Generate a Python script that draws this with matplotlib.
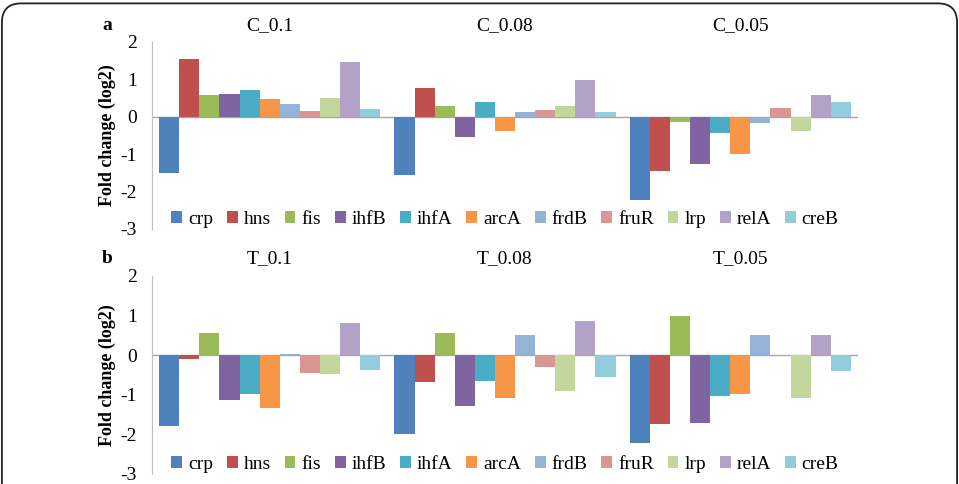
import numpy as np
import matplotlib
matplotlib.use("Agg")
from matplotlib import pyplot as plt
from matplotlib.patches import FancyBboxPatch

genes = ["crp", "hns", "fis", "ihfB", "ihfA", "arcA", "frdB", "fruR", "lrp", "relA", "creB"]
colors = ["#4F81BD", "#C0504D", "#9BBB59", "#8064A2", "#4BACC6", "#F79646",
          "#95B3D7", "#D99694", "#C3D69B", "#B3A2C7", "#93CDDD"]

c_groups = ["C_0.1", "C_0.08", "C_0.05"]
c_vals = [
    [-1.51, 1.54, 0.58, 0.60, 0.71, 0.47, 0.35, 0.15, 0.50, 1.46, 0.20],
    [-1.56, 0.76, 0.29, -0.53, 0.40, -0.37, 0.12, 0.18, 0.30, 0.99, 0.12],
    [-2.22, -1.46, -0.13, -1.27, -0.42, -1.00, -0.16, 0.24, -0.37, 0.57, 0.40],
]

t_groups = ["T_0.1", "T_0.08", "T_0.05"]
t_vals = [
    [-1.79, -0.09, 0.57, -1.14, -0.99, -1.33, 0.04, -0.46, -0.48, 0.82, -0.38],
    [-1.98, -0.67, 0.56, -1.28, -0.65, -1.07, 0.50, -0.31, -0.91, 0.87, -0.54],
    [-2.21, -1.74, 1.00, -1.71, -1.03, -0.97, 0.52, -0.03, -1.09, 0.52, -0.40],
]

plt.rcParams['font.family'] = ['Liberation Serif', 'DejaVu Serif']
plt.rcParams['axes.unicode_minus'] = False

fig = plt.figure(figsize=(9.59, 4.84), dpi=100)

# rounded frame around the figure (bottom runs off the image)
frame = FancyBboxPatch((0.002, -0.2), 0.996, 1.193, boxstyle="round,pad=0,rounding_size=0.02",
                       transform=fig.transFigure, fill=False, edgecolor="#222222", lw=1.3,
                       mutation_aspect=959 / 484)
fig.patches.append(frame)

W = 959.0
H = 484.0


def panel(rect, groups, vals, letter, y_letter):
    ax = fig.add_axes(rect)
    n = len(genes)
    bw = 0.94 / n
    x = np.arange(len(groups))
    data = np.array(vals)
    for i, g in enumerate(genes):
        ax.bar(x - 0.47 + bw * (i + 0.5), data[:, i], width=bw, color=colors[i],
               label=g, zorder=2)
    ax.axhline(0, color="#A6A6A6", lw=1, zorder=1)
    ax.set_xlim(-0.5, 2.5)
    ax.set_ylim(-3, 2)
    ax.set_yticks([-3, -2, -1, 0, 1, 2])
    ax.set_xticks([])
    for s in ["top", "right", "bottom"]:
        ax.spines[s].set_visible(False)
    ax.spines["left"].set_color("#BFBFBF")
    ax.tick_params(axis="y", length=0, pad=11, labelsize=14)
    ax.set_ylabel("Fold change (log2)", fontsize=13, fontweight="bold", labelpad=3)
    for xi, name in zip(x, groups):
        ax.text(xi, y_letter, name, transform=ax.get_xaxis_transform(),
                ha="center", va="center", fontsize=14)
    ax.text(-0.063, y_letter, letter, transform=ax.transAxes, ha="center",
            va="center", fontsize=14, fontweight="bold")
    ax.legend(loc="lower center", bbox_to_anchor=(0.5, -0.035), ncol=n, frameon=False,
              fontsize=14, handlelength=0.55, handleheight=0.55, handletextpad=0.3,
              columnspacing=0.72, borderaxespad=0)
    return ax


panel([152 / W, 1 - 229 / H, 706 / W, 187 / H], c_groups, c_vals, "a", 1.09)
panel([152 / W, 1 - 474 / H, 706 / W, 198 / H], t_groups, t_vals, "b", 1.09)

fig.savefig("out.png", dpi=100)
